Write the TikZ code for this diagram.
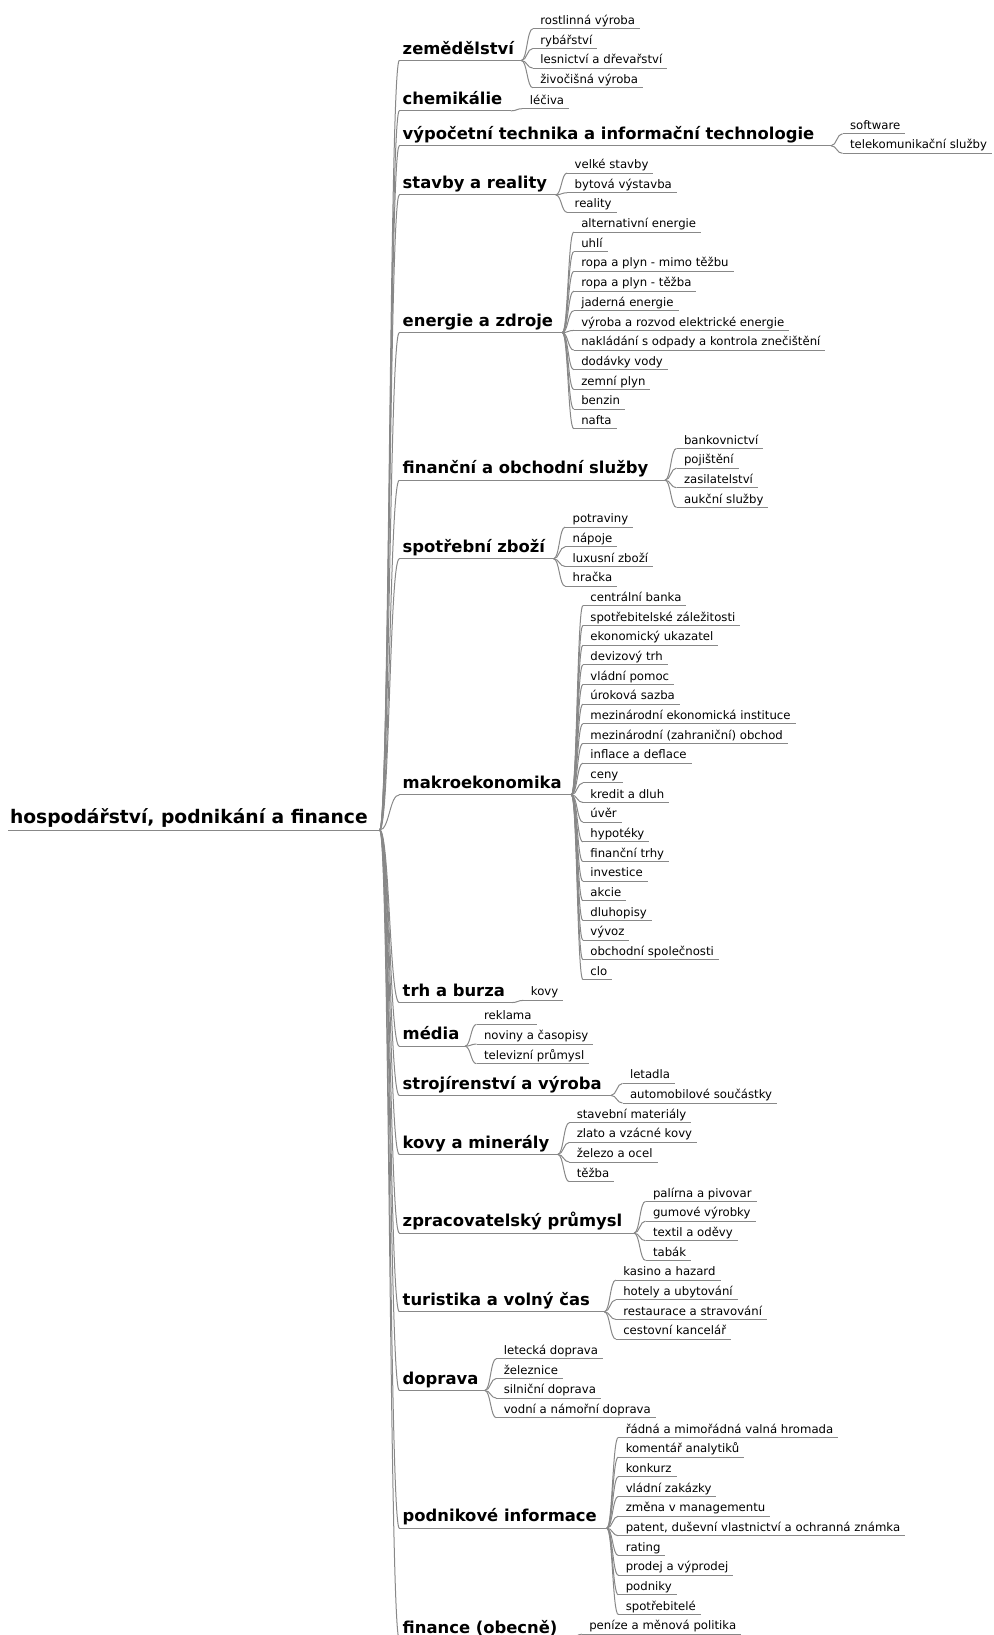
\documentclass[tikz,border=0pt]{standalone}
\usepackage{fontspec}
\setmainfont{DejaVu Sans}
\usetikzlibrary{calc}

\definecolor{linegray}{HTML}{888888}

\tikzset{
  txt/.style={inner sep=0pt, outer sep=0pt, anchor=base west, text=black},
  rootnode/.style={txt, font=\bfseries\fontsize{18.7}{22}\selectfont},
  topic/.style={txt, font=\bfseries\fontsize{16.4}{20}\selectfont},
  leaf/.style={txt, font=\fontsize{11.7}{14}\selectfont},
  rule/.style={draw=linegray, line width=1pt},
  branch/.style={draw=linegray, line width=1pt,
    to path={let \p1=(\tikztostart), \p2=(\tikztotarget) in
      .. controls ({(\x1+\x2)/2},\y1) and ({(\x1+\x2)/2},\y2) .. (\tikztotarget)}},
}

% vertical position of the underline of leaf number #1
\newcommand\mmrow[1]{28.8+19.67*#1+(#1>=4)*1.19+(#1>=5)*5.36+(#1>=49)*1.19+(#1>=50)*4.32}

% topic: [extra drop], name, first leaf, last leaf, left edge of its leaves, text
\newcommand\mmtopic[6][0]{%
  \pgfmathsetmacro\mmU{((\mmrow{#3})+(\mmrow{#4}))/2+2.2+#1}%
  \pgfmathsetmacro\mmB{\mmU-6.3}%
  \pgfmathsetmacro\mmR{#5-19}%
  \node[topic] (#2) at (402.7,\mmB) {#6};
  \coordinate (#2-l) at (399.3,\mmU);
  \coordinate (#2-r) at (\mmR,\mmU);
  \draw[rule] (#2-l) -- (#2-r);
  \draw[branch] (root-r) to (#2-l);
}

% leaf: name, row, parent, text
\newcommand\mmleaf[4]{%
  \pgfmathsetmacro\mmU{\mmrow{#2}}%
  \pgfmathsetmacro\mmB{\mmU-4.4}%
  \path (#3-r) ++(19,0) coordinate (#1-x);
  \node[leaf] (#1) at (#1-x |- 0,\mmB) {#4};
  \coordinate (#1-l) at ($(#1.base west)+(-7.5,4.4)$);
  \coordinate (#1-r) at ($(#1.base east)+(5,4.4)$);
  \draw[rule] (#1-l) -- (#1-r);
  \draw[branch] (#3-r) to (#1-l);
}

\begin{document}
\begin{tikzpicture}[x=1pt, y=-1pt]
\clip (0,0) rectangle (993,1635);

% root
\node[rootnode] (root) at (10,823.3) {hospodářství, podnikání a finance};
\coordinate (root-l) at (8,830);
\coordinate (root-r) at ($(root.base east)+(12,6.7)$);
\draw[rule] (root-l) -- (root-r);

% topics
\mmtopic{zem}{0}{3}{540.3}{zemědělství}
\mmtopic{chem}{4}{4}{529.9}{chemikálie}
\mmtopic{vyp}{5}{6}{850}{výpočetní technika a informační technologie}
\mmtopic{stav}{7}{9}{574.7}{stavby a reality}
\mmtopic{ener}{10}{20}{581.3}{energie a zdroje}
\mmtopic{fin}{21}{24}{684}{finanční a obchodní služby}
\mmtopic{spot}{25}{28}{572.6}{spotřební zboží}
\mmtopic{makro}{29}{48}{590.4}{makroekonomika}
\mmtopic{trh}{49}{49}{530.9}{trh a burza}
\mmtopic{media}{50}{52}{484}{média}
\mmtopic{stroj}{53}{54}{630}{strojírenství a výroba}
\mmtopic{kovy}{55}{58}{576.8}{kovy a minerály}
\mmtopic{zprac}{59}{62}{653}{zpracovatelský průmysl}
\mmtopic{tur}{63}{66}{623.3}{turistika a volný čas}
\mmtopic{dop}{67}{70}{503.8}{doprava}
\mmtopic{podn}{71}{80}{625.8}{podnikové informace}
\mmtopic[3]{finob}{81}{81}{589.3}{finance (obecně)}

% zemědělství
\mmleaf{a0}{0}{zem}{rostlinná výroba}
\mmleaf{a1}{1}{zem}{rybářství}
\mmleaf{a2}{2}{zem}{lesnictví a dřevařství}
\mmleaf{a3}{3}{zem}{živočišná výroba}
% chemikálie
\mmleaf{a4}{4}{chem}{léčiva}
% výpočetní technika
\mmleaf{a5}{5}{vyp}{software}
\mmleaf{a6}{6}{vyp}{telekomunikační služby}
% stavby a reality
\mmleaf{a7}{7}{stav}{velké stavby}
\mmleaf{a8}{8}{stav}{bytová výstavba}
\mmleaf{a9}{9}{stav}{reality}
% energie a zdroje
\mmleaf{a10}{10}{ener}{alternativní energie}
\mmleaf{a11}{11}{ener}{uhlí}
\mmleaf{a12}{12}{ener}{ropa a plyn - mimo těžbu}
\mmleaf{a13}{13}{ener}{ropa a plyn - těžba}
\mmleaf{a14}{14}{ener}{jaderná energie}
\mmleaf{a15}{15}{ener}{výroba a rozvod elektrické energie}
\mmleaf{a16}{16}{ener}{nakládání s odpady a kontrola znečištění}
\mmleaf{a17}{17}{ener}{dodávky vody}
\mmleaf{a18}{18}{ener}{zemní plyn}
\mmleaf{a19}{19}{ener}{benzin}
\mmleaf{a20}{20}{ener}{nafta}
% finanční a obchodní služby
\mmleaf{a21}{21}{fin}{bankovnictví}
\mmleaf{a22}{22}{fin}{pojištění}
\mmleaf{a23}{23}{fin}{zasilatelství}
\mmleaf{a24}{24}{fin}{aukční služby}
% spotřební zboží
\mmleaf{a25}{25}{spot}{potraviny}
\mmleaf{a26}{26}{spot}{nápoje}
\mmleaf{a27}{27}{spot}{luxusní zboží}
\mmleaf{a28}{28}{spot}{hračka}
% makroekonomika
\mmleaf{a29}{29}{makro}{centrální banka}
\mmleaf{a30}{30}{makro}{spotřebitelské záležitosti}
\mmleaf{a31}{31}{makro}{ekonomický ukazatel}
\mmleaf{a32}{32}{makro}{devizový trh}
\mmleaf{a33}{33}{makro}{vládní pomoc}
\mmleaf{a34}{34}{makro}{úroková sazba}
\mmleaf{a35}{35}{makro}{mezinárodní ekonomická instituce}
\mmleaf{a36}{36}{makro}{mezinárodní (zahraniční) obchod}
\mmleaf{a37}{37}{makro}{inflace a deflace}
\mmleaf{a38}{38}{makro}{ceny}
\mmleaf{a39}{39}{makro}{kredit a dluh}
\mmleaf{a40}{40}{makro}{úvěr}
\mmleaf{a41}{41}{makro}{hypotéky}
\mmleaf{a42}{42}{makro}{finanční trhy}
\mmleaf{a43}{43}{makro}{investice}
\mmleaf{a44}{44}{makro}{akcie}
\mmleaf{a45}{45}{makro}{dluhopisy}
\mmleaf{a46}{46}{makro}{vývoz}
\mmleaf{a47}{47}{makro}{obchodní společnosti}
\mmleaf{a48}{48}{makro}{clo}
% trh a burza
\mmleaf{a49}{49}{trh}{kovy}
% média
\mmleaf{a50}{50}{media}{reklama}
\mmleaf{a51}{51}{media}{noviny a časopisy}
\mmleaf{a52}{52}{media}{televizní průmysl}
% strojírenství a výroba
\mmleaf{a53}{53}{stroj}{letadla}
\mmleaf{a54}{54}{stroj}{automobilové součástky}
% kovy a minerály
\mmleaf{a55}{55}{kovy}{stavební materiály}
\mmleaf{a56}{56}{kovy}{zlato a vzácné kovy}
\mmleaf{a57}{57}{kovy}{železo a ocel}
\mmleaf{a58}{58}{kovy}{těžba}
% zpracovatelský průmysl
\mmleaf{a59}{59}{zprac}{palírna a pivovar}
\mmleaf{a60}{60}{zprac}{gumové výrobky}
\mmleaf{a61}{61}{zprac}{textil a oděvy}
\mmleaf{a62}{62}{zprac}{tabák}
% turistika a volný čas
\mmleaf{a63}{63}{tur}{kasino a hazard}
\mmleaf{a64}{64}{tur}{hotely a ubytování}
\mmleaf{a65}{65}{tur}{restaurace a stravování}
\mmleaf{a66}{66}{tur}{cestovní kancelář}
% doprava
\mmleaf{a67}{67}{dop}{letecká doprava}
\mmleaf{a68}{68}{dop}{železnice}
\mmleaf{a69}{69}{dop}{silniční doprava}
\mmleaf{a70}{70}{dop}{vodní a námořní doprava}
% podnikové informace
\mmleaf{a71}{71}{podn}{řádná a mimořádná valná hromada}
\mmleaf{a72}{72}{podn}{komentář analytiků}
\mmleaf{a73}{73}{podn}{konkurz}
\mmleaf{a74}{74}{podn}{vládní zakázky}
\mmleaf{a75}{75}{podn}{změna v managementu}
\mmleaf{a76}{76}{podn}{patent, duševní vlastnictví a ochranná známka}
\mmleaf{a77}{77}{podn}{rating}
\mmleaf{a78}{78}{podn}{prodej a výprodej}
\mmleaf{a79}{79}{podn}{podniky}
\mmleaf{a80}{80}{podn}{spotřebitelé}
% finance (obecně)
\mmleaf{a81}{81}{finob}{peníze a měnová politika}
\end{tikzpicture}
\end{document}
